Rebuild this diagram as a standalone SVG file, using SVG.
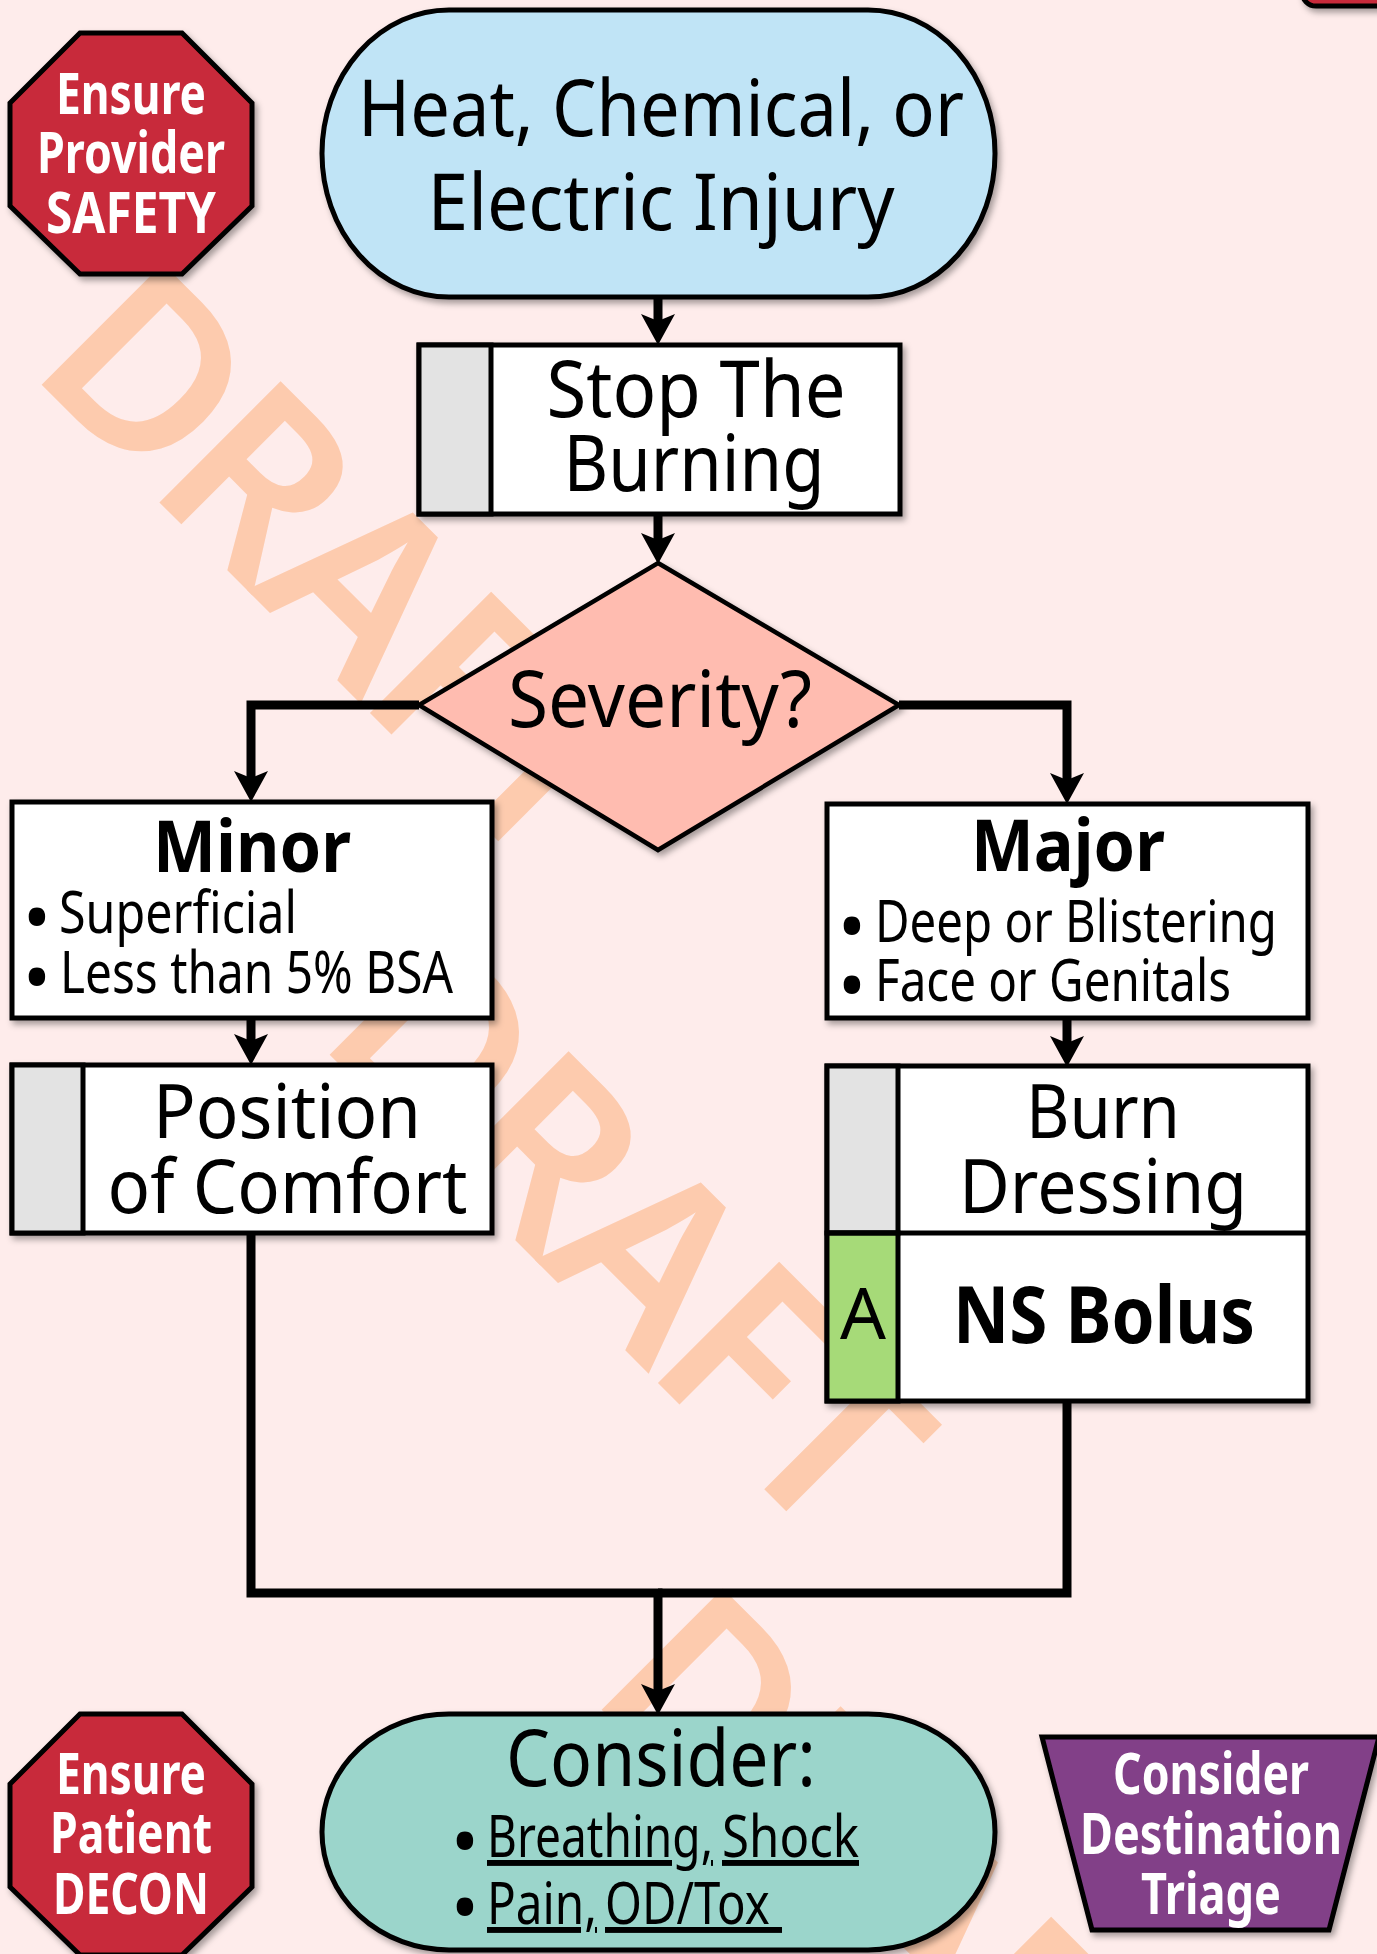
<svg xmlns="http://www.w3.org/2000/svg" width="1377" height="1954" viewBox="0 0 1377 1954">
<style>
.wm{font-family:"Noto Sans","DejaVu Sans",sans-serif;font-weight:600;font-size:240px;fill:#fdcbae}
.ln{stroke:#000;stroke-width:5}
.t{font-family:"Noto Sans","DejaVu Sans",sans-serif;fill:#000;text-anchor:middle}
.big{font-size:78px}
.bold{font-weight:700}
.cond{font-family:"Noto Sans","DejaVu Sans",sans-serif;fill:#000;font-size:59px}
.bul{font-family:"Noto Sans","DejaVu Sans",sans-serif;fill:#000;font-size:74px;text-anchor:middle}
.wht{font-family:"Noto Sans","DejaVu Sans",sans-serif;fill:#fff;font-weight:700;font-size:58px;text-anchor:middle}
.ul{text-decoration:underline;text-underline-offset:8px}
.conn{fill:none;stroke:#000;stroke-width:9;stroke-linejoin:miter}
</style>
<defs>
<filter id="sh" x="-10%" y="-10%" width="130%" height="130%">
<feDropShadow dx="3" dy="4" stdDeviation="3" flood-color="#000" flood-opacity="0.35"/>
</filter>
<marker id="ah" markerUnits="userSpaceOnUse" viewBox="0 0 31 34" markerWidth="31" markerHeight="34" refX="18" refY="17" orient="auto">
<path d="M31,17 L0,0 L7,17 L0,34 Z" fill="#000"/>
</marker>
</defs>
<rect width="1377" height="1954" fill="#feeceb"/>
<g id="watermark">
<text class="wm" x="26.5" y="369.5" transform="rotate(45 26.5 369.5)" textLength="720" lengthAdjust="spacing">DRAFT</text>
<text class="wm" x="314.5" y="1039.5" transform="rotate(45 314.5 1039.5)" textLength="720" lengthAdjust="spacing">DRAFT</text>
<text class="wm" x="586.5" y="1694.5" transform="rotate(45 586.5 1694.5)" textLength="720" lengthAdjust="spacing">DRAFT</text>
</g>
<g id="connectors">
<path class="conn" d="M658,297 V332" marker-end="url(#ah)"/>
<path class="conn" d="M658,514 V551" marker-end="url(#ah)"/>
<path class="conn" d="M419,705 H251 V789" marker-end="url(#ah)"/>
<path class="conn" d="M899,705 H1067 V791" marker-end="url(#ah)"/>
<path class="conn" d="M251,1018 V1052" marker-end="url(#ah)"/>
<path class="conn" d="M1067,1018 V1054" marker-end="url(#ah)"/>
<path class="conn" d="M251,1233 V1593 H658 V1702" marker-end="url(#ah)"/>
<path class="conn" d="M1067,1401 V1593 H658"/>
</g>
<g id="offpage-corner">
<rect x="1302" y="-60" width="140" height="66" rx="14" fill="#c82b3b" class="ln" filter="url(#sh)"/>
</g>
<g id="provider-safety">
<polygon points="80,33 182,33 252,103 252,206 182,274 80,274 10,206 10,103" fill="#c82b3b" class="ln" stroke-width="4.5" filter="url(#sh)"/>
<text class="wht" x="131" y="114" textLength="150" lengthAdjust="spacingAndGlyphs">Ensure</text>
<text class="wht" x="131" y="173" textLength="188" lengthAdjust="spacingAndGlyphs">Provider</text>
<text class="wht" x="131" y="233" textLength="170" lengthAdjust="spacingAndGlyphs">SAFETY</text>
</g>
<g id="start">
<rect x="322" y="10" width="673" height="287" rx="127" ry="143.5" fill="#c0e4f6" class="ln" filter="url(#sh)"/>
<text class="t big" x="661" y="136" textLength="606" lengthAdjust="spacingAndGlyphs">Heat, Chemical, or</text>
<text class="t big" x="661" y="230" textLength="467" lengthAdjust="spacingAndGlyphs">Electric Injury</text>
</g>
<g id="stop-burning">
<rect x="419" y="345" width="481" height="169" fill="#fff" class="ln" filter="url(#sh)"/>
<rect x="419" y="345" width="72" height="169" fill="#e3e3e3" class="ln"/>
<text class="t big" x="696" y="417" textLength="299" lengthAdjust="spacingAndGlyphs">Stop The</text>
<text class="t big" x="694" y="491" textLength="261" lengthAdjust="spacingAndGlyphs">Burning</text>
</g>
<g id="severity">
<polygon points="658,563 899,705 658,850 419,705" fill="#ffbcb0" stroke="#000" stroke-width="4.5" filter="url(#sh)"/>
<text class="t big" x="660" y="727" textLength="304" lengthAdjust="spacingAndGlyphs">Severity?</text>
</g>
<g id="minor">
<rect x="12" y="802" width="480" height="216" fill="#fff" class="ln" filter="url(#sh)"/>
<text class="t bold" x="252" y="872" font-size="72" textLength="198" lengthAdjust="spacingAndGlyphs">Minor</text>
<text class="bul" x="37" y="944">•</text>
<text class="cond" x="59" y="933" textLength="238" lengthAdjust="spacingAndGlyphs">Superficial</text>
<text class="bul" x="37" y="1004">•</text>
<text class="cond" x="60" y="993" textLength="393" lengthAdjust="spacingAndGlyphs">Less than 5% BSA</text>
</g>
<g id="position-comfort">
<rect x="12" y="1065" width="480" height="168" fill="#fff" class="ln" filter="url(#sh)"/>
<rect x="12" y="1065" width="71" height="168" fill="#e3e3e3" class="ln"/>
<text class="t" x="287" y="1138" font-size="75" textLength="268" lengthAdjust="spacingAndGlyphs">Position</text>
<text class="t" x="287.5" y="1213" font-size="75" textLength="360" lengthAdjust="spacingAndGlyphs">of Comfort</text>
</g>
<g id="major">
<rect x="827" y="804" width="481" height="214" fill="#fff" class="ln" filter="url(#sh)"/>
<text class="t bold" x="1068" y="871" font-size="72" textLength="194" lengthAdjust="spacingAndGlyphs">Major</text>
<text class="bul" x="852" y="953">•</text>
<text class="cond" x="875" y="942" textLength="402" lengthAdjust="spacingAndGlyphs">Deep or Blistering</text>
<text class="bul" x="852" y="1012">•</text>
<text class="cond" x="875" y="1001" textLength="356" lengthAdjust="spacingAndGlyphs">Face or Genitals</text>
</g>
<g id="burn-dressing-ns-bolus">
<rect x="827" y="1066" width="481" height="335" fill="#fff" class="ln" filter="url(#sh)"/>
<rect x="827" y="1066" width="71" height="167" fill="#e3e3e3" class="ln"/>
<rect x="827" y="1233" width="71" height="168" fill="#a6da78" class="ln"/>
<line x1="827" y1="1233" x2="1308" y2="1233" class="ln"/>
<text class="t" x="1103" y="1138" font-size="75" textLength="154" lengthAdjust="spacingAndGlyphs">Burn</text>
<text class="t" x="1103" y="1213" font-size="75" textLength="288" lengthAdjust="spacingAndGlyphs">Dressing</text>
<text class="t" x="863" y="1339" font-size="72">A</text>
<text class="t bold big" x="1104" y="1343" textLength="302" lengthAdjust="spacingAndGlyphs">NS Bolus</text>
</g>
<g id="patient-decon">
<polygon points="80,1714 182,1714 252,1784 252,1887 182,1955 80,1955 10,1887 10,1784" fill="#c82b3b" class="ln" stroke-width="4.5" filter="url(#sh)"/>
<text class="wht" x="131" y="1794" textLength="150" lengthAdjust="spacingAndGlyphs">Ensure</text>
<text class="wht" x="131" y="1853" textLength="162" lengthAdjust="spacingAndGlyphs">Patient</text>
<text class="wht" x="131" y="1914" textLength="156" lengthAdjust="spacingAndGlyphs">DECON</text>
</g>
<g id="consider">
<rect x="322" y="1714" width="673" height="236" rx="127" ry="118" fill="#9bd5cb" class="ln" filter="url(#sh)"/>
<text class="t big" x="661" y="1786" textLength="310" lengthAdjust="spacingAndGlyphs">Consider:</text>
<text class="bul" x="465" y="1868">•</text>
<text class="cond ul" x="487" y="1857" font-size="62" textLength="226" lengthAdjust="spacingAndGlyphs">Breathing,</text>
<text class="cond ul" x="722" y="1857" font-size="62" textLength="137" lengthAdjust="spacingAndGlyphs">Shock</text>
<text class="bul" x="465" y="1934">•</text>
<text class="cond ul" x="487" y="1924" font-size="62" textLength="110" lengthAdjust="spacingAndGlyphs">Pain,</text>
<text class="cond ul" x="605" y="1924" font-size="62" textLength="177" lengthAdjust="spacingAndGlyphs">OD/Tox&#160;</text>
</g>
<g id="destination-triage">
<polygon points="1042,1737 1379,1737 1329,1930 1092,1930" fill="#823f88" class="ln" stroke-width="4.5" filter="url(#sh)"/>
<text class="wht" x="1211" y="1794" textLength="196" lengthAdjust="spacingAndGlyphs">Consider</text>
<text class="wht" x="1211" y="1854" textLength="262" lengthAdjust="spacingAndGlyphs">Destination</text>
<text class="wht" x="1211" y="1914" textLength="140" lengthAdjust="spacingAndGlyphs">Triage</text>
</g>
</svg>
